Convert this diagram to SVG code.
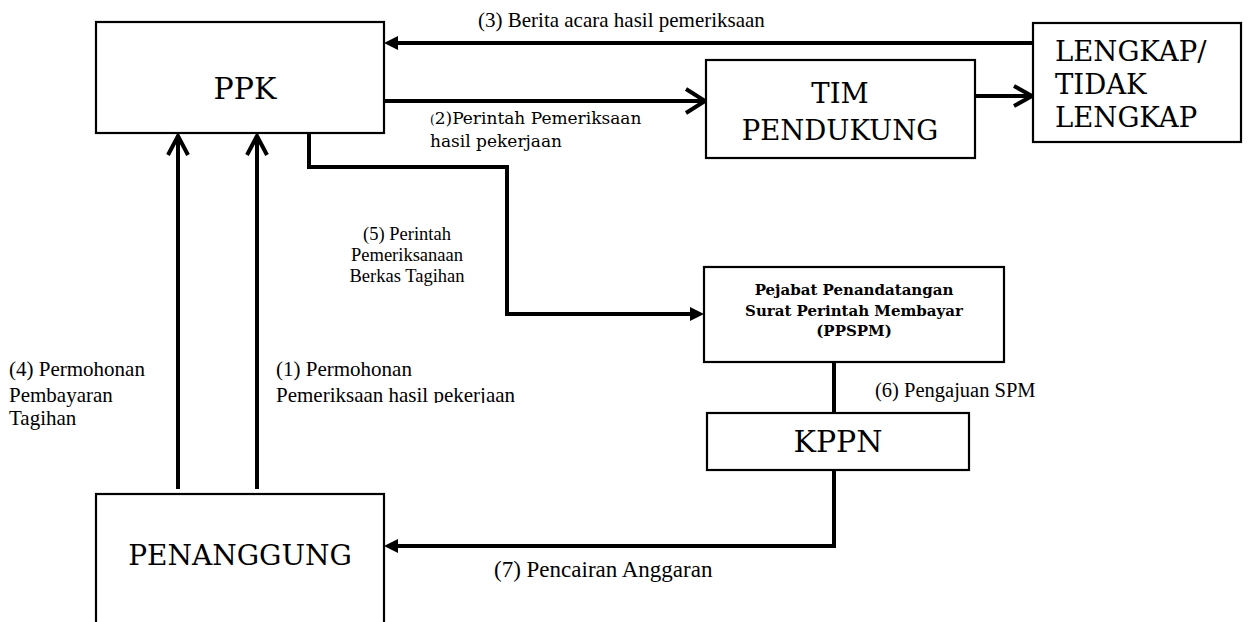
<svg xmlns="http://www.w3.org/2000/svg" width="1248" height="622" viewBox="0 0 1248 622">
<style>
.box{fill:#fff;stroke:#000;stroke-width:2.2}
.ln{fill:none;stroke:#000;stroke-width:4}
.ch{fill:none;stroke:#000;stroke-width:4;stroke-linejoin:miter}
</style>
<defs>
<clipPath id="clip1"><rect x="260" y="350" width="300" height="53"/></clipPath>
</defs>
<rect width="1248" height="622" fill="#fff"/>
<g id="connectors">
  <line class="ln" x1="1033" y1="43" x2="396" y2="43"/>
  <polygon points="384,43 398,36 398,50" fill="#000"/>
  <line class="ln" x1="384" y1="101" x2="703" y2="101"/>
  <polyline class="ch" points="686,89 705,101 686,113"/>
  <line class="ln" x1="975" y1="96" x2="1030" y2="96"/>
  <polyline class="ch" points="1014,86 1032,96 1014,106"/>
  <polyline class="ln" points="309,133 309,167 507,167 507,314 692,314"/>
  <polygon points="704,314 690,307 690,321" fill="#000"/>
  <line class="ln" x1="834" y1="362" x2="834" y2="413"/>
  <polyline class="ln" points="834,470 834,546 396,546"/>
  <polygon points="384,546 398,539 398,553" fill="#000"/>
  <line class="ln" x1="178" y1="489" x2="178" y2="136"/>
  <polyline class="ch" points="168,155 178,136 188,155"/>
  <line class="ln" x1="257" y1="489" x2="257" y2="136"/>
  <polyline class="ch" points="247,155 257,136 267,155"/>
</g>
<g id="labels" font-family="Liberation Serif, Times New Roman, serif" fill="#000">
  <text x="478" y="27" font-size="21">(3) Berita acara hasil pemeriksaan</text>
  <text font-family="DejaVu Serif, serif" x="430" y="124" font-size="17"><tspan font-size="12">(</tspan>2)Perintah Pemeriksaan</text>
  <text font-family="DejaVu Serif, serif" x="430" y="147" font-size="17">hasil pekerjaan</text>
  <text font-size="18.5" text-anchor="middle"><tspan x="407" y="240">(5) Perintah</tspan><tspan x="407" y="261">Pemeriksanaan</tspan><tspan x="407" y="282">Berkas Tagihan</tspan></text>
  <text font-size="21"><tspan x="9" y="376">(4) Permohonan</tspan><tspan x="9" y="402">Pembayaran</tspan><tspan x="9" y="425">Tagihan</tspan></text>
  <text font-size="21" clip-path="url(#clip1)"><tspan x="276" y="376">(1) Permohonan</tspan><tspan x="276" y="402">Pemeriksaan hasil pekerjaan</tspan></text>
  <text x="875" y="397" font-size="20.5">(6) Pengajuan SPM</text>
  <text x="494" y="577" font-size="23">(7) Pencairan Anggaran</text>
</g>
<g id="ppk" font-family="DejaVu Serif, serif" fill="#000">
  <rect class="box" x="96" y="22" width="288" height="111"/>
  <text x="245" y="99" font-size="30" text-anchor="middle">PPK</text>
</g>
<g id="tim-pendukung" font-family="DejaVu Serif, serif" fill="#000">
  <rect class="box" x="706" y="60" width="269" height="98"/>
  <text font-size="27.5" text-anchor="middle"><tspan x="840" y="103">TIM</tspan><tspan x="840" y="140">PENDUKUNG</tspan></text>
</g>
<g id="lengkap" font-family="DejaVu Serif, serif" fill="#000">
  <rect class="box" x="1033" y="23" width="208" height="119"/>
  <text font-size="27.5"><tspan x="1055" y="61">LENGKAP/</tspan><tspan x="1055" y="94">TIDAK</tspan><tspan x="1055" y="127">LENGKAP</tspan></text>
</g>
<g id="ppspm" font-family="DejaVu Serif, serif" fill="#000">
  <rect class="box" x="704" y="267" width="300" height="95"/>
  <text font-size="15" font-weight="bold" text-anchor="middle"><tspan x="854" y="295">Pejabat Penandatangan</tspan><tspan x="854" y="316">Surat Perintah Membayar</tspan><tspan x="854" y="336">(PPSPM)</tspan></text>
</g>
<g id="kppn" font-family="DejaVu Serif, serif" fill="#000">
  <rect class="box" x="707" y="413" width="262" height="57"/>
  <text x="838" y="452" font-size="30" text-anchor="middle">KPPN</text>
</g>
<g id="penanggung" font-family="DejaVu Serif, serif" fill="#000">
  <rect class="box" x="96" y="494" width="288" height="140"/>
  <text x="240" y="565" font-size="28" text-anchor="middle">PENANGGUNG</text>
</g>
</svg>
